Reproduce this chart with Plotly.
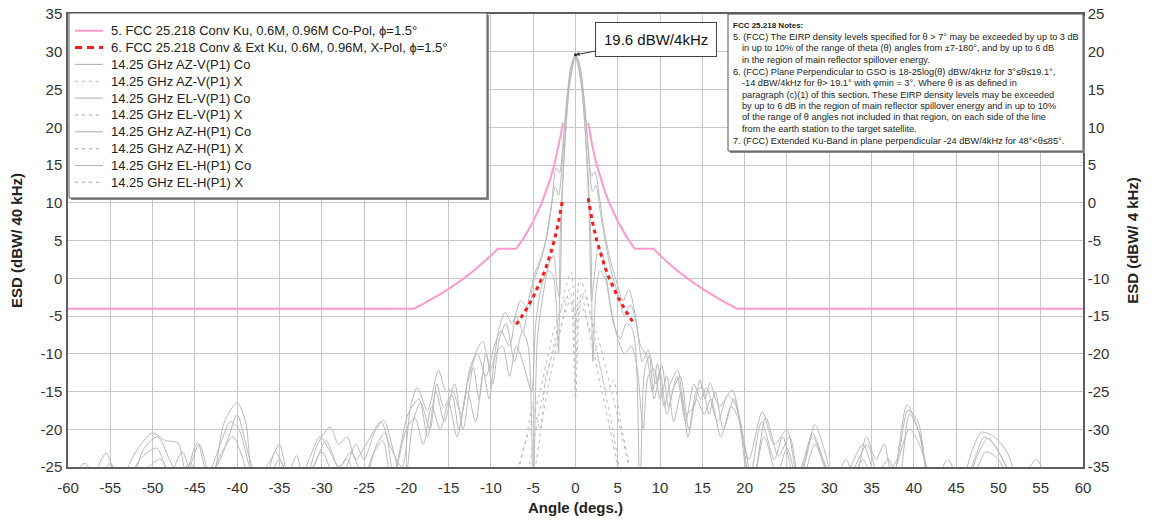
import plotly.graph_objects as go

# ---------------------------------------------------------------- canvas
W, H = 1158, 521
ML, MR, MT, MB = 68, 75, 14, 54
PW, PH = W - ML - MR, H - MT - MB


def px(x):
    return (x - ML) / PW


def py(y):
    return (H - MB - y) / PH


FONT = "Arial, Liberation Sans, sans-serif"

# ---------------------------------------------------------------- data
X_TICKS = [-60, -55, -50, -45, -40, -35, -30, -25, -20, -15, -10, -5, 0,
           5, 10, 15, 20, 25, 30, 35, 40, 45, 50, 55, 60]
Y40_TICKS = [-25, -20, -15, -10, -5, 0, 5, 10, 15, 20, 25, 30, 35]
Y4_TICKS = [-35, -30, -25, -20, -15, -10, -5, 0, 5, 10, 15, 20, 25]

# FCC 25.218 masks in dBW/40kHz (left axis)
MASK_CO_ANG = [-60, -19.1, -18, -17, -16, -15, -14, -13, -12, -11, -10, -9.2, -7, -6, -5, -4,
               -3.5, -3, -2.5, -2, -1.75, -1.5, None,
               1.5, 1.75, 2, 2.5, 3, 3.5, 4, 5, 6, 7, 9.2, 10, 11, 12, 13, 14, 15, 16, 17, 18,
               19.1, 60]
MASK_CO_VAL = [-4.03, -4.03, -3.38, -2.76, -2.10, -1.40, -0.65, 0.15, 1.02, 1.97, 3.0, 3.9, 3.9,
               5.55, 7.53, 9.95, 11.40, 13.07, 15.05, 17.47, 18.92, 20.60, None,
               20.60, 18.92, 17.47, 15.05, 13.07, 11.40, 9.95, 7.53, 5.55, 3.9, 3.9, 3.0, 1.97,
               1.02, 0.15, -0.65, -1.40, -2.10, -2.76, -3.38, -4.03, -4.03]

MASK_X_ANG = [-7, -6, -5, -4, -3.5, -3, -2.5, -2, -1.5, None, 1.5, 2, 2.5, 3, 3.5, 4, 5, 6, 7]
MASK_X_VAL = [-6.13, -4.45, -2.47, -0.05, 1.40, 3.07, 5.05, 7.47, 10.60, None,
              10.60, 7.47, 5.05, 3.07, 1.40, -0.05, -2.47, -4.45, -6.13]

# measured co-pol cuts (angle deg, ESD dBW/40kHz)
AZ_V_CO = [(-60, -28), (-57, -26), (-55.5, -23.2), (-54, -27), (-52, -23), (-50, -20.5),
           (-48.5, -21.5), (-47, -21.8), (-46, -26), (-44.5, -22), (-43, -27), (-41.5, -19),
           (-40, -16.5), (-39, -19), (-38, -27), (-36, -24), (-35, -22), (-34, -26),
           (-33, -23.5), (-32, -27), (-30.5, -22), (-29, -19.7), (-28, -22), (-27, -21),
           (-26, -24), (-24.5, -21.5), (-23, -19), (-22, -22), (-20.5, -25), (-19.5, -17),
           (-18.7, -14.5), (-17.5, -17.5), (-16.2, -12.2), (-15.3, -15), (-14.6, -14.8),
           (-13.5, -18), (-12.5, -12), (-11, -8.4), (-10, -12), (-9, -6.5), (-8.3, -4.5),
           (-7.5, -6), (-6.5, -3), (-5.5, -4), (-5, 0), (-4, 3), (-3.3, 6), (-2.8, 10),
           (-2.3, 14.6), (-1.9, 14), (-1.5, 17.6), (-1, 24), (-0.5, 28.3), (0, 29.6),
           (0.5, 28.3), (1, 24), (1.5, 17.5), (1.9, 13.5), (2.3, 14.1), (2.8, 11), (3.3, 7),
           (4, 3), (5, -1), (5.6, -3), (6.3, -1.5), (7, -4.5), (7.7, -9), (8.4, -10.2),
           (9.1, -15), (9.7, -11.3), (10.5, -17), (11.2, -14), (12.1, -12.2), (13, -18),
           (14, -17), (14.7, -13.5), (15.3, -16), (15.9, -13.9), (17, -17), (18.5, -14.8),
           (19.5, -19), (20.5, -24), (22.1, -17.7), (23.5, -22), (25, -20.1), (26.2, -26),
           (27.2, -24), (28.3, -19.4), (29.5, -23), (30.5, -27), (32, -24), (33, -27),
           (34.4, -21), (35.5, -24), (36.5, -22), (37.5, -27), (39.2, -16.8), (40.5, -20),
           (41.5, -25), (42.5, -27), (44, -24), (45.5, -27), (47, -22.5), (48, -20.4),
           (49.5, -21), (51, -23), (52.5, -27), (54.5, -24), (56, -27), (58, -26), (60, -28)]

EL_V_CO = [(-60, -29), (-58.5, -25.5), (-57, -28), (-55, -24.5), (-53.5, -28), (-51.5, -24),
           (-49.5, -22.5), (-48, -26), (-46.5, -23), (-45, -27), (-42.5, -25), (-41, -21),
           (-40, -18.1), (-38.5, -24), (-37, -28), (-35, -24), (-33.5, -28), (-31, -25),
           (-29.5, -21.5), (-28, -25), (-26.5, -23), (-25, -27), (-23.5, -22), (-22.5, -20.5),
           (-21.5, -26), (-19.8, -18), (-18.5, -16), (-17.5, -21), (-16.5, -15), (-15.5, -19),
           (-14.3, -14), (-13.3, -20), (-12.1, -11.8), (-11.4, -16), (-10.6, -10), (-9.8, -14),
           (-9, -8), (-8.2, -6), (-7.2, -11), (-6.3, -7), (-5.6, -9), (-5, -28), (-4.5, -8),
           (-3.8, -2), (-3.1, 2), (-2.6, 3), (-2.2, -1), (-1.9, -2.5), (-1.6, 10), (-1.2, 19),
           (-0.6, 26.8), (0, 29.4), (0.6, 26.6), (1.2, 18.5), (1.6, 9), (1.9, -2.9), (2.2, 0),
           (2.7, 4), (3.2, 3), (3.8, -1), (4.5, -6), (5.3, -8), (6, -6), (6.8, -7), (7.6, -28),
           (8.2, -12), (8.8, -10.2), (9.5, -14), (10.2, -11.5), (11, -17), (12, -13), (13, -19),
           (14, -14), (14.8, -16), (15.5, -14.5), (16.8, -19), (18, -15.5), (19, -17),
           (20.5, -27), (22, -19), (23.5, -24), (24.5, -21), (26, -27), (28, -21), (29.5, -25),
           (31, -28), (33, -25), (34.5, -22), (36, -27), (38, -24), (39.3, -17.5), (40.5, -19),
           (42, -27), (44, -25), (45.5, -28), (47.5, -23), (48.3, -21), (49.5, -22), (51, -25),
           (53, -28), (55, -25), (57, -28), (60, -27)]

AZ_H_CO = [(-60, -27), (-58, -24.5), (-56.5, -27), (-55, -25.5), (-53, -28), (-51, -22.5),
           (-49.4, -21), (-48, -24), (-46.5, -27), (-44.7, -21.8), (-43.5, -26), (-42, -22),
           (-40.8, -19), (-39.8, -20), (-38.5, -25), (-37, -28), (-35.5, -23), (-34.5, -25),
           (-33, -28), (-31.5, -24), (-30.2, -21), (-29, -23), (-27.5, -26), (-26, -22),
           (-25, -24), (-23.8, -20.5), (-22.7, -18.8), (-21.5, -23), (-20.3, -28), (-19.2, -19),
           (-18.3, -16.5), (-17.2, -20), (-16.4, -14), (-15.6, -17), (-14.6, -15.5),
           (-13.8, -20), (-12.8, -14), (-11.6, -10), (-10.6, -13), (-9.6, -9), (-8.8, -7),
           (-7.8, -9), (-7, -5), (-6.2, -7), (-5.4, -2), (-4.5, 1), (-3.7, 4), (-3, 8.5),
           (-2.4, 12.1), (-2, 11), (-1.6, 15), (-1.1, 22.5), (-0.5, 28), (0, 29.5), (0.5, 28),
           (1.1, 22.5), (1.6, 15.5), (2, 11.5), (2.4, 12.3), (2.9, 9), (3.5, 5), (4.2, 1),
           (5, -2), (5.8, -5), (6.5, -3.5), (7.2, -6), (7.9, -11), (8.6, -9.5), (9.3, -16),
           (10, -12.5), (10.8, -18), (11.6, -14.5), (12.4, -13), (13.4, -20), (14.3, -15),
           (15, -14.5), (15.8, -18), (16.5, -15), (17.5, -20), (18.7, -16), (19.8, -21),
           (21, -27), (22.5, -18.5), (24, -23.5), (25.3, -21), (26.5, -27), (28, -20.5),
           (29.3, -24), (30.8, -28), (32.5, -25), (34, -22), (35.5, -26), (37, -24),
           (38.2, -27), (39.5, -18), (40.8, -21), (42, -28), (44.5, -26), (46, -28),
           (47.5, -23.5), (48.8, -21.2), (50, -23), (51.5, -26), (53.5, -28), (55.5, -26),
           (57.5, -28.5), (60, -29)]

EL_H_CO = [(-60, -30), (-58, -27), (-56, -29), (-54.5, -26), (-53, -29), (-50.5, -25),
           (-49, -24), (-47.5, -27), (-45.5, -24.5), (-44, -28), (-41.8, -23), (-40.5, -21),
           (-39.3, -24), (-38, -29), (-35.5, -26), (-34, -29), (-31.5, -26), (-30, -23),
           (-28.5, -26), (-27, -24), (-25.5, -28), (-24, -23.5), (-22.8, -21.5), (-21.7, -27),
           (-20, -20), (-19, -18.5), (-18, -22), (-17, -17), (-16, -20), (-15, -16.5),
           (-14, -21), (-12.8, -15), (-11.8, -19), (-10.9, -12.5), (-10.2, -16), (-9.4, -10),
           (-8.6, -9), (-7.8, -13), (-7, -9), (-6, -12), (-5.2, -15), (-4.7, -6), (-4, -1),
           (-3.3, 1), (-2.7, 0.5), (-2.3, -3), (-2, -10), (-1.8, 6), (-1.3, 17), (-0.7, 25.5),
           (0, 29.2), (0.7, 25.5), (1.3, 17), (1.8, 6), (2.05, -11), (2.4, -2), (2.9, 1),
           (3.5, 0), (4.2, -4), (5, -8), (5.8, -10), (6.6, -9), (7.3, -12), (8, -20),
           (8.6, -13), (9.3, -12), (10, -16), (10.8, -13), (11.6, -19), (12.5, -15),
           (13.3, -21), (14.3, -16), (15.2, -18), (16, -16), (17.2, -21), (18.4, -17),
           (19.4, -19), (20.8, -28), (22.3, -21), (23.8, -26), (25, -22.5), (26.5, -28),
           (28.3, -22), (29.8, -26), (31.5, -29), (34, -24), (35.5, -28), (37.5, -26),
           (39.5, -20), (41, -23), (42.5, -29), (45, -27), (47.5, -25), (48.5, -23),
           (50, -24), (52, -28), (55, -27), (60, -29)]

# measured cross-pol cuts
AZ_V_X = [(-6.5, -31), (-5.5, -25), (-4.5, -19), (-3.5, -13.5), (-2.5, -8.5), (-1.7, -4),
          (-1.1, -1), (-0.5, 0.8), (0, -7), (0.5, 0), (1.1, -1.5), (1.8, -5), (2.6, -10),
          (3.5, -15), (4.4, -20), (5.3, -26), (6.2, -31)]
EL_V_X = [(-8, -31), (-7, -26), (-6, -22), (-5, -18.5), (-4.2, -15), (-3.4, -11), (-2.6, -7),
          (-1.8, -4.5), (-1, -2.5), (-0.4, -3.5), (0, -12), (0.4, -4), (1, -2), (1.8, -5),
          (2.7, -8), (3.6, -12), (4.5, -16), (5.4, -20.5), (6.3, -25), (7.2, -31)]
AZ_H_X = [(-5.5, -31), (-4.6, -24), (-3.8, -18), (-3, -13), (-2.2, -9), (-1.4, -5),
          (-0.7, -1.5), (0, -5), (0.7, -2), (1.4, -6), (2.2, -10), (3, -14.5), (3.9, -19),
          (4.8, -24), (5.7, -31)]
EL_H_X = [(-7.5, -31), (-6.6, -25), (-5.8, -21), (-5, -17), (-4.2, -20), (-3.5, -13),
          (-2.7, -10), (-1.9, -7), (-1.2, -4.5), (-0.6, -3), (0, -16), (0.6, -3.5),
          (1.2, -5), (2, -8), (2.8, -11), (3.7, -15), (4.5, -13.5), (5.3, -19), (6.2, -24),
          (7.1, -31)]

PEAK_ANG, PEAK_ESD4K = 0, 19.6   # peak ESD in dBW/4kHz (right axis)

NOTES_TITLE = "FCC 25.218 Notes:"
NOTES_LINES = [
    "5. (FCC) The EIRP density levels specified for θ > 7° may be exceeded by up to 3 dB",
    "    in up to 10% of the range of theta (θ) angles from ±7-180°, and by up to 6 dB",
    "    in the region of main reflector spillover energy.",
    "6. (FCC) Plane Perpendicular to GSO is 18-25log(θ) dBW/4kHz for 3°≤θ≤19.1°,",
    "    -14 dBW/4kHz for θ> 19.1° with φmin = 3°. Where θ is as defined in",
    "    paragraph (c)(1) of this section. These EIRP density levels may be exceeded",
    "    by up to 6 dB in the region of main reflector spillover energy and in up to 10%",
    "    of the range of θ angles not included in that region, on each side of the line",
    "    from the earth station to the target satellite.",
    "7. (FCC) Extended Ku-Band in plane perpendicular -24 dBW/4kHz for 48°<θ≤85°.",
]

# ---------------------------------------------------------------- figure
fig = go.Figure()

GRAY_CO = "#bababa"
GRAY_X = "#b8b8b8"
PINK = "#ff99cc"
RED = "#ff1a1a"
X_DASH = "3px,4px"

MASK_CO_NAME = "5. FCC 25.218 Conv Ku, 0.6M, 0.96M Co-Pol, ϕ=1.5°"
MASK_X_NAME = "6. FCC 25.218 Conv & Ext Ku, 0.6M, 0.96M, X-Pol, ϕ=1.5°"

measured = [
    ("14.25 GHz AZ-V(P1) Co", AZ_V_CO, False),
    ("14.25 GHz AZ-V(P1) X", AZ_V_X, True),
    ("14.25 GHz EL-V(P1) Co", EL_V_CO, False),
    ("14.25 GHz EL-V(P1) X", EL_V_X, True),
    ("14.25 GHz AZ-H(P1) Co", AZ_H_CO, False),
    ("14.25 GHz AZ-H(P1) X", AZ_H_X, True),
    ("14.25 GHz EL-H(P1) Co", EL_H_CO, False),
    ("14.25 GHz EL-H(P1) X", EL_H_X, True),
]
for name, pts, is_x in measured:
    fig.add_trace(go.Scatter(
        x=[p[0] for p in pts], y=[p[1] for p in pts], name=name, mode="lines",
        line=dict(color=GRAY_X if is_x else GRAY_CO, width=1,
                  dash=X_DASH if is_x else "solid", shape="spline", smoothing=0.8),
        hoverinfo="skip", showlegend=False))

fig.add_trace(go.Scatter(
    x=MASK_CO_ANG, y=MASK_CO_VAL, mode="lines", connectgaps=False, name=MASK_CO_NAME,
    line=dict(color=PINK, width=2), showlegend=False))
fig.add_trace(go.Scatter(
    x=MASK_X_ANG, y=MASK_X_VAL, mode="lines", connectgaps=False, name=MASK_X_NAME,
    line=dict(color=RED, width=3, dash="4px,4px"), showlegend=False))

# peak point on the dBW/4kHz scale
fig.add_trace(go.Scatter(
    x=[PEAK_ANG], y=[PEAK_ESD4K], yaxis="y2", mode="markers",
    marker=dict(size=3, color="#222"), showlegend=False, hoverinfo="skip"))

# ---------------------------------------------------------------- boxes
shapes = []
annotations = []


def boxed(x0, y0, x1, y1):
    shapes.append(dict(type="rect", xref="paper", yref="paper", layer="above",
                       x0=px(x0 + 2), x1=px(x1 + 2), y0=py(y0 + 2), y1=py(y1 + 2),
                       fillcolor="#8a8a8a", line=dict(width=0)))
    shapes.append(dict(type="rect", xref="paper", yref="paper", layer="above",
                       x0=px(x0), x1=px(x1), y0=py(y0), y1=py(y1),
                       fillcolor="white", line=dict(color="#555", width=1)))


boxed(69, 13, 487, 198)     # legend frame
boxed(728, 14, 1083, 151)   # notes frame

# legend entries: sample line + label, one row per series
legend_rows = [(MASK_CO_NAME, PINK, 2, "solid"), (MASK_X_NAME, RED, 3, "7px,5px")]
for name, pts, is_x in measured:
    legend_rows.append((name, GRAY_X if is_x else GRAY_CO, 1.2, X_DASH if is_x else "solid"))

for i, (name, color, width, dash) in enumerate(legend_rows):
    yc = 30.7 + 16.85 * i
    shapes.append(dict(type="line", xref="paper", yref="paper", layer="above",
                       x0=px(75), x1=px(103), y0=py(yc), y1=py(yc),
                       line=dict(color=color, width=width, dash=dash)))
    annotations.append(dict(x=px(109), y=py(yc), xref="paper", yref="paper",
                            xanchor="left", yanchor="middle", text=name, showarrow=False,
                            font=dict(family=FONT, size=13, color="#222")))

annotations.append(dict(
    x=PEAK_ANG, y=PEAK_ESD4K, xref="x", yref="y2", text="19.6 dBW/4kHz",
    showarrow=True, arrowhead=2, arrowsize=0.8, arrowwidth=1, arrowcolor="#333",
    ax=80, ay=-15, bgcolor="white", bordercolor="#444", borderwidth=1, borderpad=8,
    font=dict(family=FONT, size=15, color="#111")))

annotations.append(dict(
    x=px(731), y=py(25), xref="paper", yref="paper", xanchor="left", yanchor="middle",
    text="<b>" + NOTES_TITLE + "</b>", showarrow=False,
    font=dict(family=FONT, size=8, color="#222")))
for i, line in enumerate(NOTES_LINES):
    indent = line.startswith("    ")
    annotations.append(dict(
        x=px(740 if indent else 731), y=py(37 + 11.5 * i), xref="paper", yref="paper",
        xanchor="left", yanchor="middle", text=line.strip(), showarrow=False,
        font=dict(family=FONT, size=9.2, color="#222")))

# ---------------------------------------------------------------- layout
axis_common = dict(
    showline=True, linecolor="#5e5e5e", linewidth=1.5, mirror=True, automargin=False,
    ticks="outside", tickcolor="rgba(0,0,0,0)", zeroline=False,
    tickfont=dict(family=FONT, size=15, color="#333"))

fig.update_layout(
    width=W, height=H, margin=dict(l=ML, r=MR, t=MT, b=MB, pad=0, autoexpand=False),
    paper_bgcolor="white", plot_bgcolor="white",
    font=dict(family=FONT, color="#222"),
    showlegend=False,
    xaxis=dict(range=[-60, 60], tickmode="array", tickvals=X_TICKS,
               ticktext=[str(v) for v in X_TICKS], showgrid=True, gridcolor="#c8c8c8",
               gridwidth=1.2, ticklen=6,
               title=dict(text="<b>Angle (degs.)</b>", standoff=8,
                          font=dict(family=FONT, size=15, color="#222")),
               **axis_common),
    yaxis=dict(range=[-25, 35], tickmode="array", tickvals=Y40_TICKS,
               ticktext=[str(v) for v in Y40_TICKS], showgrid=True, gridcolor="#c8c8c8",
               gridwidth=1.2, ticklen=1,
               title=dict(text="<b>ESD (dBW/ 40 kHz)</b>", standoff=14,
                          font=dict(family=FONT, size=15, color="#222")),
               **axis_common),
    yaxis2=dict(range=[-35, 25], tickmode="array", tickvals=Y4_TICKS,
                ticktext=[str(v) for v in Y4_TICKS], overlaying="y", side="right",
                showgrid=False, ticklen=0,
                title=dict(text="<b>ESD (dBW/ 4 kHz)</b>", standoff=19,
                           font=dict(family=FONT, size=15, color="#222")),
                **axis_common),
    shapes=shapes, annotations=annotations,
)

fig.write_html("out.html")
